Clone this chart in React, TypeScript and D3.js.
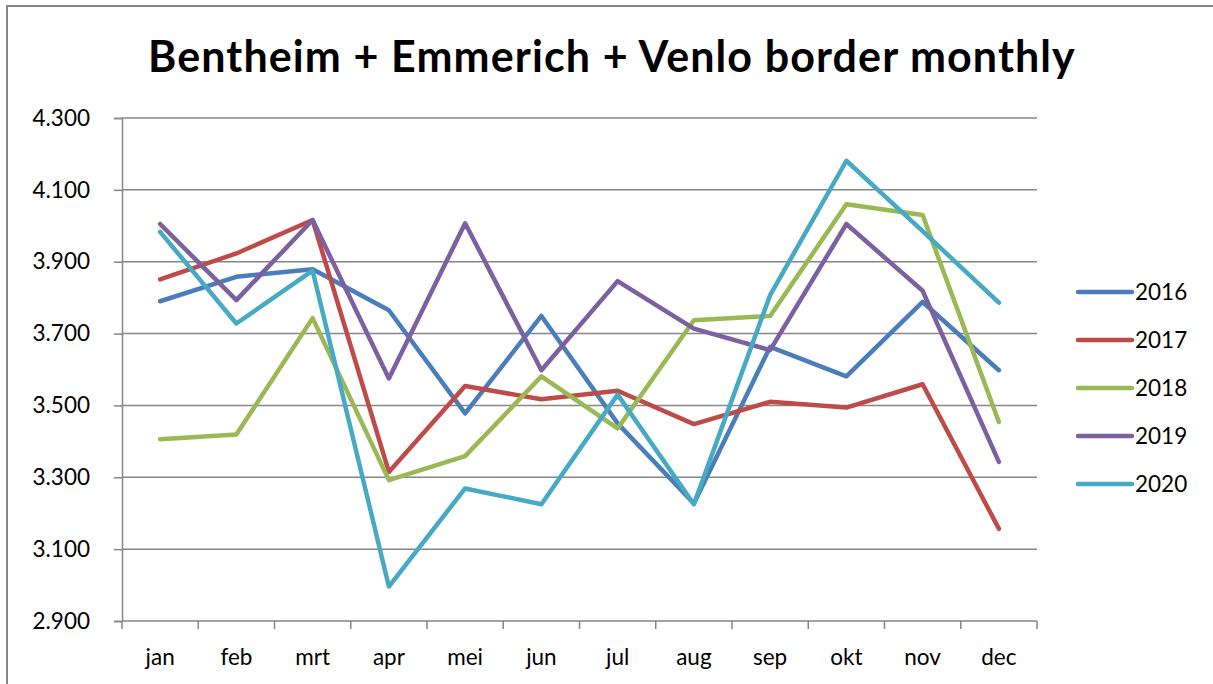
import React, { useEffect, useRef } from "react";
import * as d3 from "d3";

const months = ["jan", "feb", "mrt", "apr", "mei", "jun", "jul", "aug", "sep", "okt", "nov", "dec"];
const yTicks = [2900, 3100, 3300, 3500, 3700, 3900, 4100, 4300];

const y2016 = [3790, 3858, 3879, 3765, 3478, 3749, 3450, 3227, 3663, 3581, 3788, 3598];
const y2017 = [3851, 3923, 4016, 3315, 3554, 3517, 3541, 3448, 3510, 3494, 3559, 3157];
const y2018 = [3406, 3419, 3743, 3292, 3359, 3581, 3436, 3737, 3749, 4060, 4030, 3454];
const y2019 = [4005, 3793, 4016, 3575, 4007, 3598, 3846, 3714, 3654, 4005, 3819, 3343];
const y2020 = [3983, 3728, 3875, 2996, 3269, 3225, 3530, 3225, 3807, 4181, 3985, 3786];

const seriesNames = ["2016", "2017", "2018", "2019", "2020"];
const seriesColors = ["#4A7EBB", "#BE4B48", "#98B954", "#7D60A0", "#46AAC5"];

const App = () => {
  const svgRef = useRef<SVGSVGElement>(null);
  const width = 1213;
  const height = 684;

  useEffect(() => {
    const svg = d3.select(svgRef.current);
    svg.selectAll("*").remove();

    const font = "Lato, 'Open Sans', sans-serif";
    const grey = "#868686";
    const margin = { top: 118, left: 122, right: 176, bottom: 63 };
    const innerW = width - margin.left - margin.right;
    const innerH = height - margin.top - margin.bottom;

    // outer chart frame (only top and left visible)
    svg.append("rect")
      .attr("x", 7).attr("y", 6)
      .attr("width", width + 20).attr("height", height + 20)
      .attr("fill", "white").attr("stroke", grey).attr("stroke-width", 2);

    svg.append("text")
      .attr("x", 612).attr("y", 72)
      .attr("text-anchor", "middle")
      .attr("font-family", font).attr("font-weight", "bold").attr("font-size", 43)
      .attr("letter-spacing", 1.1)
      .text("Bentheim + Emmerich + Venlo border monthly");

    const x = d3.scaleBand().domain(months).range([0, innerW]);
    const y = d3.scaleLinear().domain([2900, 4300]).range([innerH, 0]);

    const g = svg.append("g").attr("transform", `translate(${margin.left},${margin.top})`);

    // gridlines
    g.append("g")
      .selectAll("line")
      .data(yTicks.slice(1))
      .join("line")
      .attr("x1", 0).attr("x2", innerW)
      .attr("y1", (d) => y(d)).attr("y2", (d) => y(d))
      .attr("stroke", grey).attr("stroke-width", 1.5);

    // y axis
    const yAxis = g.append("g")
      .call(d3.axisLeft(y).tickValues(yTicks).tickSize(8).tickPadding(24)
        .tickFormat((d) => d3.format(".3f")(+d / 1000)));
    yAxis.select(".domain").attr("stroke", grey).attr("stroke-width", 1.5);
    yAxis.selectAll(".tick line").attr("stroke", grey).attr("stroke-width", 1.5);
    yAxis.selectAll("text").attr("font-family", font).attr("font-size", 22.5).attr("fill", "#000");

    // x axis with ticks between categories
    const xAxis = g.append("g").attr("transform", `translate(0,${innerH})`);
    xAxis.append("line")
      .attr("x1", 0).attr("x2", innerW)
      .attr("stroke", grey).attr("stroke-width", 1.5);
    xAxis.selectAll(".sep")
      .data(d3.range(months.length + 1))
      .join("line")
      .attr("x1", (i) => i * x.step()).attr("x2", (i) => i * x.step())
      .attr("y1", 0).attr("y2", 8)
      .attr("stroke", grey).attr("stroke-width", 1.5);
    xAxis.selectAll("text")
      .data(months)
      .join("text")
      .attr("x", (d) => x(d)! + x.bandwidth() / 2)
      .attr("y", 44)
      .attr("text-anchor", "middle")
      .attr("font-family", font).attr("font-size", 22.5)
      .text((d) => d);

    const allSeries = [y2016, y2017, y2018, y2019, y2020];
    const line = d3.line<number>()
      .x((_, i) => x(months[i])! + x.bandwidth() / 2)
      .y((d) => y(d));

    allSeries.forEach((vals, i) => {
      g.append("path")
        .datum(vals)
        .attr("fill", "none")
        .attr("stroke", seriesColors[i])
        .attr("stroke-width", 4.5)
        .attr("stroke-linejoin", "round")
        .attr("stroke-linecap", "round")
        .attr("d", line);
    });

    // legend
    const legend = svg.append("g").attr("transform", "translate(1078,292)");
    seriesNames.forEach((name, i) => {
      const row = legend.append("g").attr("transform", `translate(0,${i * 48})`);
      row.append("line")
        .attr("x1", 0).attr("x2", 54)
        .attr("stroke", seriesColors[i]).attr("stroke-width", 4.5)
        .attr("stroke-linecap", "round");
      row.append("text")
        .attr("x", 57).attr("y", 8)
        .attr("font-family", font).attr("font-size", 22.5)
        .text(name);
    });
  }, []);

  return <svg ref={svgRef} width={width} height={height} style={{ display: "block", position: "absolute", left: 0, top: 0 }}></svg>;
};

export default App;
